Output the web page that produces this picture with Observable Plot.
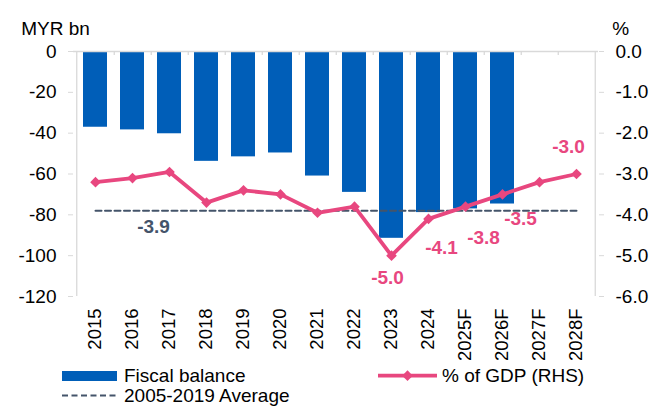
<!DOCTYPE html>
<html><head><meta charset="utf-8">
<script src="https://cdn.jsdelivr.net/npm/d3@7"></script>
<script src="https://cdn.jsdelivr.net/npm/@observablehq/plot@0.6"></script>
<style>
body{margin:0;background:#fff;font-family:"Liberation Sans",Arial,sans-serif}
#wrap{width:654px;height:406px;overflow:hidden;position:relative}
#wrap svg{display:block}
</style>
</head><body><div id="wrap"></div>
<script>
// ---- data ----
const years = ["2015","2016","2017","2018","2019","2020","2021","2022","2023","2024","2025F","2026F","2027F","2028F"];
const fiscalBalance = [-37.1,-38.4,-40.3,-53.8,-51.6,-49.7,-61.0,-69.0,-91.5,-78.9,-77.1,-74.7,null,null]; // MYR bn
const pctOfGDP = [-3.2,-3.1,-2.95,-3.7,-3.4,-3.5,-3.95,-3.8,-5.0,-4.1,-3.8,-3.5,-3.2,-3.0]; // % of GDP (RHS)
const labelledYears = ["2023","2024","2025F","2026F","2028F"];
const avg2005_2019 = -3.9;
const leftTicks = [0,-20,-40,-60,-80,-100,-120];
const rightTicks = [0,-1,-2,-3,-4,-5,-6];
const seriesNames = ["Fiscal balance","% of GDP (RHS)","2005-2019 Average"];

// ---- styles ----
const BLUE = "#005eb8", PINK = "#e8477f", SLATE = "#44546a", GRID = "#d9d9d9";
const W = 654, H = 362, mL = 73, mR = 56, mT = 51, mB = 66;
const ratio = leftTicks[leftTicks.length-1] / rightTicks[rightTicks.length-1]; // 20
const step = (W - mL - mR) / years.length;

const table = years.map((year, i) => ({year, balance: fiscalBalance[i], pct: pctOfGDP[i]}));
const labelOffsets = {"2023":[-4,22], "2024":[13,29], "2025F":[18,31], "2026F":[18,24], "2028F":[-8,-27]};

const marks = [
  Plot.barY(table.filter(d => d.balance != null), {x: "year", y: "balance", fill: BLUE}),
  Plot.ruleY([0], {stroke: GRID, strokeWidth: 1.3}),
  Plot.ruleX(years.slice(0, -1), {x: d => d, y1: 0, y2: -2, dx: step / 2, stroke: GRID, strokeWidth: 1.3}),
  Plot.ruleX([years[0]], {x: d => d, y1: leftTicks[leftTicks.length-1], y2: 0, dx: -step / 2, stroke: GRID, strokeWidth: 1.3}),
  Plot.ruleX([years[years.length-1]], {x: d => d, y1: leftTicks[leftTicks.length-1], y2: 0, dx: step / 2, stroke: GRID, strokeWidth: 1.3}),
  Plot.axisY(leftTicks, {anchor: "left", tickSize: 5, tickPadding: 12, stroke: GRID, fill: "#000", fontSize: 19, tickFormat: d => d.toFixed(0), label: null}),
  Plot.axisY(rightTicks.map(v => v * ratio), {anchor: "right", tickSize: 5, tickPadding: 12, stroke: GRID, fill: "#000", fontSize: 19, tickFormat: d => (d / ratio).toFixed(1), label: null}),
  Plot.axisX({anchor: "bottom", tickSize: 0, tickPadding: 12, tickRotate: -90, fill: "#000", fontSize: 18.5, label: null}),
  Plot.line([years[0], years[years.length-1]], {x: d => d, y: () => avg2005_2019 * ratio, stroke: SLATE, strokeWidth: 2, strokeDasharray: "6,3.5"}),
  Plot.text([avg2005_2019], {x: () => years[1], y: d => d * ratio, text: d => d.toFixed(1), dx: 21, dy: 16, fill: SLATE, fontWeight: "bold", fontSize: 19}),
  Plot.line(table, {x: "year", y: d => d.pct * ratio, stroke: PINK, strokeWidth: 3.8, strokeLinejoin: "round"}),
  Plot.dot(table, {x: "year", y: d => d.pct * ratio, symbol: "diamond2", r: 4.8, fill: PINK, stroke: null}),
  ...labelledYears.map(yr => {
    const d = table.find(t => t.year === yr);
    const [dx, dy] = labelOffsets[yr];
    return Plot.text([d], {x: "year", y: t => t.pct * ratio, text: t => t.pct.toFixed(1), dx, dy, fill: PINK, fontWeight: "bold", fontSize: 19});
  }),
  Plot.text(["MYR bn"], {frameAnchor: "top-left", text: d => d, dx: -52.3, dy: -30, textAnchor: "start", fontSize: 19, fill: "#000"}),
  Plot.text(["%"], {frameAnchor: "top-right", text: d => d, dx: 13.7, dy: -30, textAnchor: "start", fontSize: 19, fill: "#000"})
];

const chart = Plot.plot({
  width: W, height: H,
  marginLeft: mL, marginRight: mR, marginTop: mT, marginBottom: mB,
  style: {fontFamily: "'Liberation Sans', Arial, sans-serif", fontSize: "19px", background: "#fff", color: "#000", overflow: "visible"},
  x: {type: "band", domain: years, paddingInner: 0.36, paddingOuter: 0.18, axis: null},
  y: {domain: [leftTicks[leftTicks.length-1], 0], axis: null},
  marks
});
document.getElementById("wrap").appendChild(chart);

// ---- legend (below the plot) ----
const leg = d3.select("#wrap").append("svg").attr("width", W).attr("height", 406 - H)
  .style("font-family", "'Liberation Sans', Arial, sans-serif").style("font-size", "19px");
leg.append("rect").attr("x", 62).attr("y", 9).attr("width", 55).attr("height", 10).attr("fill", BLUE);
leg.append("text").attr("x", 124).attr("y", 20).text(seriesNames[0]);
leg.append("line").attr("x1", 378).attr("x2", 437).attr("y1", 13.7).attr("y2", 13.7).attr("stroke", PINK).attr("stroke-width", 3.8);
leg.append("path").attr("d", d3.symbol(d3.symbolDiamond2, Math.PI * 4.8 * 4.8)()).attr("transform", "translate(407.5,13.7)").attr("fill", PINK);
leg.append("text").attr("x", 442).attr("y", 20).text(seriesNames[1]);
leg.append("line").attr("x1", 62).attr("x2", 117).attr("y1", 33.5).attr("y2", 33.5).attr("stroke", SLATE).attr("stroke-width", 2).attr("stroke-dasharray", "6,3.5");
leg.append("text").attr("x", 124).attr("y", 39.5).text(seriesNames[2]);
</script>
</body></html>
